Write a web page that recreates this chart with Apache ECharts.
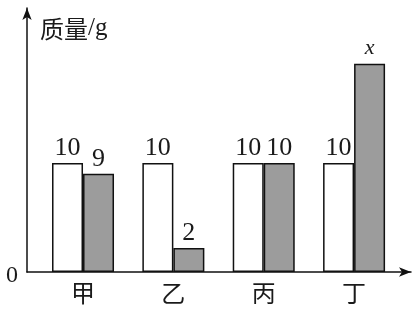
<!DOCTYPE html>
<html>
<head>
<meta charset="utf-8">
<script src="https://cdn.jsdelivr.net/npm/echarts@6/dist/echarts.min.js"></script>
<style>html,body{margin:0;padding:0;background:#fff;}#c{width:414px;height:313px;}</style>
</head>
<body>
<div id="c"></div>
<script>
var categories = ['甲', '乙', '丙', '丁'];
var positions = [1, 2, 3, 4];
var beforeValues = [10, 10, 10, 10];
var afterValues = [9, 2.2, 10, 19.1];
var beforeLabels = ['10', '10', '10', '10'];
var afterLabels = ['9', '2', '10', '{i|x}'];
var yTicks = [0];

var chart = echarts.init(document.getElementById('c'), null, {renderer: 'canvas'});
var serif = '"Liberation Serif", "DejaVu Serif", serif';
var cjk = '"Noto Sans CJK SC", sans-serif';

function mk(vals, labels) {
  return vals.map(function (v, i) {
    return {value: [positions[i], v], labelText: labels[i]};
  });
}

var labelCfg = {
  show: true, position: 'top', distance: 2,
  formatter: function (p) { return p.data.labelText; },
  fontFamily: serif, fontSize: 26, color: '#1a1a1a',
  rich: {i: {fontFamily: serif, fontStyle: 'italic', fontSize: 22, color: '#1a1a1a', padding: [0, 0, 2, 0]}}
};

chart.setOption({
  animation: false,
  backgroundColor: '#ffffff',
  grid: {left: 27, right: 3, top: 8, bottom: 41, containLabel: false},
  xAxis: {
    type: 'value', min: 0.38, max: 4.63,
    splitLine: {show: false},
    axisTick: {show: false},
    axisLine: {show: true, onZero: false, lineStyle: {color: '#111', width: 1.5},
      symbol: ['none', 'arrow'], symbolSize: [7, 12]},
    axisLabel: {
      customValues: positions,
      formatter: function (v) { return categories[Math.round(v) - 1] || ''; },
      fontFamily: cjk, fontSize: 24, color: '#1a1a1a', margin: 9
    }
  },
  yAxis: {
    type: 'value', min: 0, max: 24.2,
    splitLine: {show: false},
    axisTick: {show: false},
    axisLine: {show: true, lineStyle: {color: '#111', width: 1.5},
      symbol: ['none', 'arrow'], symbolSize: [7, 12]},
    axisLabel: {
      customValues: yTicks,
      fontFamily: serif, fontSize: 24, color: '#1a1a1a', margin: 9,
      verticalAlign: 'top', lineHeight: 8
    },
    name: '{a|质量}{b|/g}',
    nameLocation: 'end',
    nameGap: -8,
    nameTextStyle: {
      align: 'left', verticalAlign: 'top', padding: [0, 0, 0, 13],
      rich: {
        a: {fontFamily: cjk, fontSize: 24, color: '#1a1a1a'},
        b: {fontFamily: serif, fontSize: 25, color: '#1a1a1a'}
      }
    }
  },
  series: [
    {
      type: 'bar', data: mk(beforeValues, beforeLabels), barWidth: 31, barGap: '0%',
      itemStyle: {color: '#ffffff', borderColor: '#111', borderWidth: 1.5},
      label: labelCfg
    },
    {
      type: 'bar', data: mk(afterValues, afterLabels), barWidth: 31, barGap: '0%',
      itemStyle: {color: '#9c9c9c', borderColor: '#111', borderWidth: 1.5},
      label: labelCfg
    }
  ]
});
</script>
</body>
</html>
